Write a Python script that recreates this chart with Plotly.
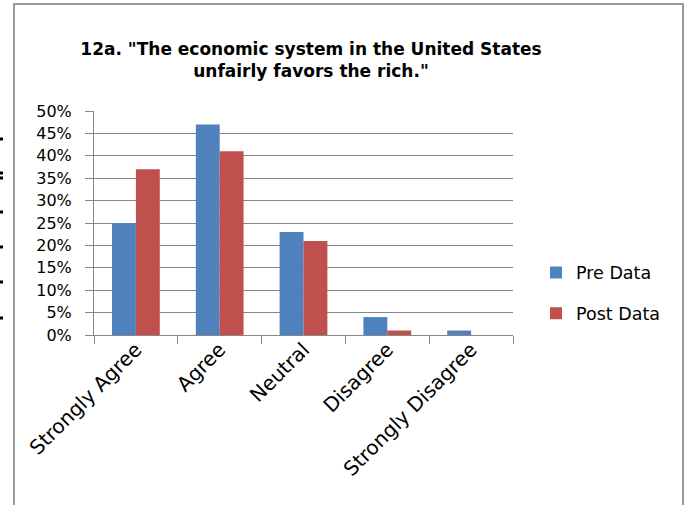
import plotly.graph_objects as go

categories = ["Strongly Agree", "Agree", "Neutral", "Disagree", "Strongly Disagree"]
pre_data = [25, 47, 23, 4, 1]
post_data = [37, 41, 21, 1, 0]
series_names = ["Pre Data", "Post Data"]
title_text = '12a. "The economic system in the United States<br>unfairly favors the rich."'

W, H = 696, 505
L, R, T, B = 94, 183, 111, 170
PW, PH = W - L - R, H - T - B

def px(x):
    return (x - L) / PW

def py(y):
    return (H - B - y) / PH

FONT = "DejaVu Sans"
GRAY = "#878787"

fig = go.Figure()
fig.add_trace(go.Bar(x=categories, y=pre_data, name=series_names[0],
                     marker=dict(color="#4F81BD", line=dict(width=0)),
                     legendgroup="a"))
fig.add_trace(go.Bar(x=categories, y=post_data, name=series_names[1],
                     marker=dict(color="#C0504D", line=dict(width=0)),
                     legendgroup="b"))

shapes = [dict(type="rect", xref="paper", yref="paper",
               x0=px(14), x1=px(683), y0=py(4), y1=py(520),
               line=dict(color="#9a9a9a", width=2), layer="above")]
for yy in [139, 173, 178, 212, 247, 282, 318]:
    shapes.append(dict(type="rect", xref="paper", yref="paper",
                       x0=px(0), x1=px(3), y0=py(yy - 1.5), y1=py(yy + 1.5),
                       fillcolor="black", line=dict(width=0)))

fig.update_layout(
    width=W, height=H,
    margin=dict(l=L, r=R, t=T, b=B),
    paper_bgcolor="white", plot_bgcolor="white",
    font=dict(family=FONT, color="black", size=16),
    title=dict(text="<b>" + title_text + "</b>", xref="paper", x=px(311), xanchor="center",
               yref="container", y=1 - 54.5 / H, yanchor="middle",
               font=dict(family=FONT, size=17, color="black")),
    barmode="group", bargap=0.43, bargroupgap=0,
    showlegend=True,
    legend=dict(x=px(536), xanchor="left", y=py(293), yanchor="middle",
                font=dict(family=FONT, size=17.5), tracegroupgap=15,
                traceorder="grouped", bgcolor="rgba(0,0,0,0)"),
    shapes=shapes,
    xaxis=dict(showline=True, linecolor=GRAY, linewidth=1, ticks="outside",
               tickson="boundaries", ticklen=8, tickcolor=GRAY, tickangle=-45,
               ticklabelstandoff=-6,
               tickfont=dict(family=FONT, size=20), showgrid=False),
    yaxis=dict(range=[0, 50], dtick=5, ticksuffix="%", showline=True, linecolor=GRAY,
               linewidth=1, ticks="outside", ticklen=8, tickcolor=GRAY,
               gridcolor=GRAY, gridwidth=1, zeroline=False, ticklabelstandoff=10,
               tickfont=dict(family=FONT, size=16)),
)

fig.write_html("out.html", config={"displayModeBar": False},
               post_script="document.body.style.margin='0';document.body.style.overflow='hidden';")
